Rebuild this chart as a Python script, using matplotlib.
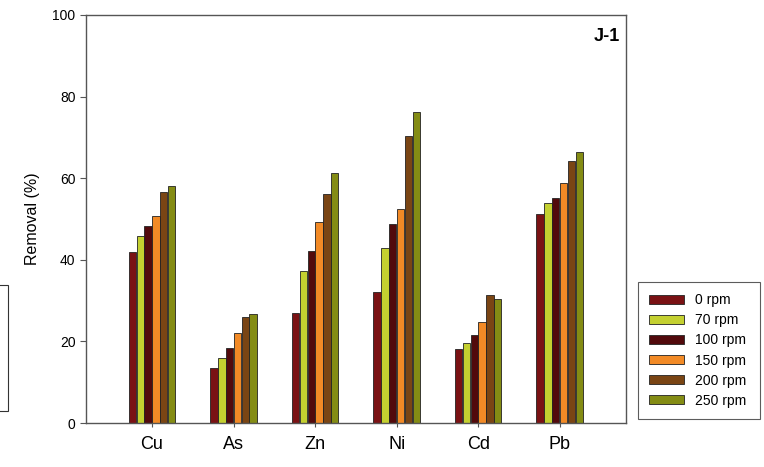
import numpy as np
import matplotlib.pyplot as plt
from matplotlib.patches import Rectangle

plt.rcParams['font.family'] = ['Liberation Sans', 'DejaVu Sans']

metals = ['Cu', 'As', 'Zn', 'Ni', 'Cd', 'Pb']
speeds = ['0 rpm', '70 rpm', '100 rpm', '150 rpm', '200 rpm', '250 rpm']

# removal (%) per metal, one list per stirring speed
rpm_0 = [42.0, 13.6, 27.0, 32.1, 18.2, 51.1]
rpm_70 = [45.8, 15.9, 37.3, 42.8, 19.5, 54.0]
rpm_100 = [48.3, 18.5, 42.2, 48.8, 21.5, 55.2]
rpm_150 = [50.7, 22.1, 49.2, 52.5, 24.8, 58.9]
rpm_200 = [56.5, 25.9, 56.1, 70.4, 31.4, 64.3]
rpm_250 = [58.1, 26.6, 61.2, 76.1, 30.4, 66.3]
series = [rpm_0, rpm_70, rpm_100, rpm_150, rpm_200, rpm_250]

colors = ['#7a1214', '#c4d030', '#520a0c', '#f28a26', '#7a4514', '#848c14']

fig = plt.figure(figsize=(7.64, 4.67), dpi=100)
ax = fig.add_axes([0.1126, 0.0942, 0.7064, 0.8738])

x = np.arange(len(metals))
w = 0.096
for i, (vals, c, lab) in enumerate(zip(series, colors, speeds)):
    ax.bar(x + (i - 2.5) * w, vals, width=w * 0.94, color=c,
           edgecolor='#222222', linewidth=0.6, label=lab)

ax.set_xlim(-0.81, 5.81)
ax.set_ylim(0, 100)
ax.set_yticks([0, 20, 40, 60, 80, 100])
ax.set_xticks(x)
ax.set_xticklabels(metals, fontsize=13)
ax.tick_params(axis='y', labelsize=10, length=4, width=0.8, color='#555555')
ax.tick_params(axis='x', length=3, width=0.8, color='#555555', pad=6)
for s in ax.spines.values():
    s.set_color('#555555')
    s.set_linewidth(1.0)

ax.set_ylabel('Removal (%)', fontsize=11.5, labelpad=9)
ax.text(0.989, 0.968, 'J-1', transform=ax.transAxes, ha='right', va='top',
        fontsize=13, fontweight='bold')

leg = fig.legend(loc='upper left', bbox_to_anchor=(0.835, 0.101, 0.16, 0.295),
                 mode='expand', borderaxespad=0, fontsize=10, frameon=True,
                 fancybox=False, handlelength=2.5, handleheight=0.65,
                 handletextpad=0.8, labelspacing=0.44, borderpad=0.8)
leg.get_frame().set_edgecolor('#333333')
leg.get_frame().set_linewidth(0.8)

# partial box at the left edge
fig.patches.append(Rectangle((-0.01, 1 - 411 / 467), 0.0205, 126 / 467,
                             transform=fig.transFigure, fill=False,
                             edgecolor='#333333', linewidth=0.8))

fig.savefig('out.png', dpi=100)
